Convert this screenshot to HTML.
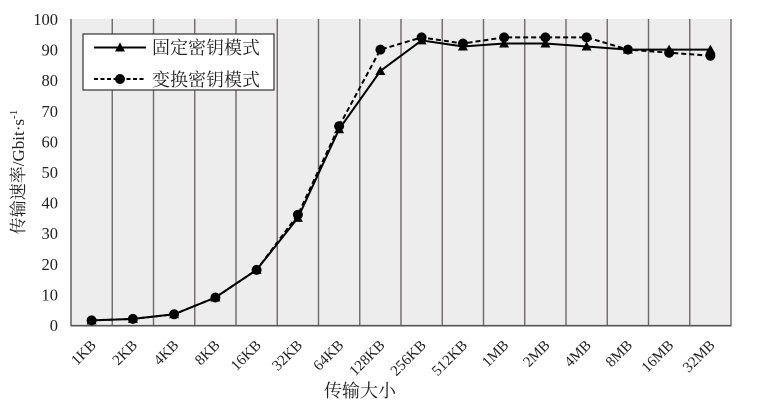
<!DOCTYPE html>
<html><head><meta charset="utf-8"><style>
html,body{margin:0;padding:0;background:#fff;}
svg{display:block;}
</style></head><body>
<svg width="760" height="406" viewBox="0 0 760 406" xmlns="http://www.w3.org/2000/svg">
<rect x="0" y="0" width="760" height="406" fill="#fff"/>
<rect x="71" y="19" width="660" height="306.5" fill="#ecedec"/>
<g stroke="#6e6969" stroke-width="1.4">
<line x1="112.25" y1="19" x2="112.25" y2="325.5"/>
<line x1="153.5" y1="19" x2="153.5" y2="325.5"/>
<line x1="194.75" y1="19" x2="194.75" y2="325.5"/>
<line x1="236" y1="19" x2="236" y2="325.5"/>
<line x1="277.25" y1="19" x2="277.25" y2="325.5"/>
<line x1="318.5" y1="19" x2="318.5" y2="325.5"/>
<line x1="359.75" y1="19" x2="359.75" y2="325.5"/>
<line x1="401" y1="19" x2="401" y2="325.5"/>
<line x1="442.25" y1="19" x2="442.25" y2="325.5"/>
<line x1="483.5" y1="19" x2="483.5" y2="325.5"/>
<line x1="524.75" y1="19" x2="524.75" y2="325.5"/>
<line x1="566" y1="19" x2="566" y2="325.5"/>
<line x1="607.25" y1="19" x2="607.25" y2="325.5"/>
<line x1="648.5" y1="19" x2="648.5" y2="325.5"/>
<line x1="689.75" y1="19" x2="689.75" y2="325.5"/>
<line x1="731" y1="19" x2="731" y2="325.5"/>
</g>
<line x1="71" y1="19" x2="71" y2="326" stroke="#555" stroke-width="1.4"/>
<line x1="70.5" y1="325.7" x2="731.5" y2="325.7" stroke="#555" stroke-width="1.6"/>

<g font-family="'Liberation Serif', serif" font-size="16.5" fill="#222" text-anchor="end">
<text x="58" y="25">100</text>
<text x="58" y="55.6">90</text>
<text x="58" y="86.2">80</text>
<text x="58" y="116.8">70</text>
<text x="58" y="147.4">60</text>
<text x="58" y="178">50</text>
<text x="58" y="208.6">40</text>
<text x="58" y="239.2">30</text>
<text x="58" y="269.8">20</text>
<text x="58" y="300.4">10</text>
<text x="58" y="331">0</text>
</g>

<text transform="translate(24,172) rotate(-90)" text-anchor="middle" font-family="'Liberation Serif', 'Noto Serif CJK SC', serif" font-size="17" fill="#222">传输速率/Gbit·s<tspan font-size="11" dy="-7">-1</tspan></text>

<g font-family="'Liberation Serif', serif" font-size="15" fill="#222" text-anchor="end">
<text transform="translate(97,346) rotate(-45)">1KB</text>
<text transform="translate(138.25,346) rotate(-45)">2KB</text>
<text transform="translate(179.5,346) rotate(-45)">4KB</text>
<text transform="translate(220.75,346) rotate(-45)">8KB</text>
<text transform="translate(262,346) rotate(-45)">16KB</text>
<text transform="translate(303.25,346) rotate(-45)">32KB</text>
<text transform="translate(344.5,346) rotate(-45)">64KB</text>
<text transform="translate(385.75,346) rotate(-45)">128KB</text>
<text transform="translate(427,346) rotate(-45)">256KB</text>
<text transform="translate(468.25,346) rotate(-45)">512KB</text>
<text transform="translate(509.5,346) rotate(-45)">1MB</text>
<text transform="translate(550.75,346) rotate(-45)">2MB</text>
<text transform="translate(592,346) rotate(-45)">4MB</text>
<text transform="translate(633.25,346) rotate(-45)">8MB</text>
<text transform="translate(674.5,346) rotate(-45)">16MB</text>
<text transform="translate(715.75,346) rotate(-45)">32MB</text>
</g>
<text x="360" y="397" text-anchor="middle" font-family="'Noto Serif CJK SC', serif" font-size="18" fill="#222">传输大小</text>

<polyline fill="none" stroke="#000" stroke-width="2" stroke-dasharray="5,3" points="91.6,320.4 132.9,318.9 174.1,314.3 215.4,297.5 256.6,269.9 297.9,214.8 339.1,126.1 380.4,49.6 421.6,37.4 462.9,43.5 504.1,37.4 545.4,37.4 586.6,37.4 627.9,49.6 669.1,52.7 710.4,55.7"/>
<polyline fill="none" stroke="#000" stroke-width="2" points="91.6,320.4 132.9,318.9 174.1,314.3 215.4,297.5 256.6,269.9 297.9,217.9 339.1,129.2 380.4,71.0 421.6,40.4 462.9,46.5 504.1,43.5 545.4,43.5 586.6,46.5 627.9,49.6 669.1,49.6 710.4,49.6"/>
<g fill="#000">
<circle cx="91.6" cy="320.4" r="5"/><circle cx="132.9" cy="318.9" r="5"/><circle cx="174.1" cy="314.3" r="5"/><circle cx="215.4" cy="297.5" r="5"/><circle cx="256.6" cy="269.9" r="5"/><circle cx="297.9" cy="214.8" r="5"/><circle cx="339.1" cy="126.1" r="5"/><circle cx="380.4" cy="49.6" r="5"/><circle cx="421.6" cy="37.4" r="5"/><circle cx="462.9" cy="43.5" r="5"/><circle cx="504.1" cy="37.4" r="5"/><circle cx="545.4" cy="37.4" r="5"/><circle cx="586.6" cy="37.4" r="5"/><circle cx="627.9" cy="49.6" r="5"/><circle cx="669.1" cy="52.7" r="5"/><circle cx="710.4" cy="55.7" r="5"/>
</g>
<g fill="#000">
<path d="M91.6,315.4 l5,9 h-10z"/><path d="M132.9,313.9 l5,9 h-10z"/><path d="M174.1,309.3 l5,9 h-10z"/><path d="M215.4,292.5 l5,9 h-10z"/><path d="M256.6,264.9 l5,9 h-10z"/><path d="M297.9,212.9 l5,9 h-10z"/><path d="M339.1,124.2 l5,9 h-10z"/><path d="M380.4,66.0 l5,9 h-10z"/><path d="M421.6,35.4 l5,9 h-10z"/><path d="M462.9,41.5 l5,9 h-10z"/><path d="M504.1,38.5 l5,9 h-10z"/><path d="M545.4,38.5 l5,9 h-10z"/><path d="M586.6,41.5 l5,9 h-10z"/><path d="M627.9,44.6 l5,9 h-10z"/><path d="M669.1,44.6 l5,9 h-10z"/><path d="M710.4,44.6 l5,9 h-10z"/>
</g>

<rect x="83" y="34" width="191" height="56" fill="#fff" stroke="#333" stroke-width="1.2"/>
<line x1="94" y1="47.5" x2="146" y2="47.5" stroke="#000" stroke-width="2"/>
<path d="M120,42.5 l5,9 h-10z" fill="#000"/>
<line x1="94" y1="79" x2="146" y2="79" stroke="#000" stroke-width="2" stroke-dasharray="4,2.5"/>
<circle cx="120" cy="79" r="5" fill="#000"/>
<g font-family="'Noto Serif CJK SC', serif" font-size="18" fill="#222">
<text x="152" y="54">固定密钥模式</text>
<text x="152" y="86">变换密钥模式</text>
</g>
</svg>
</body></html>
